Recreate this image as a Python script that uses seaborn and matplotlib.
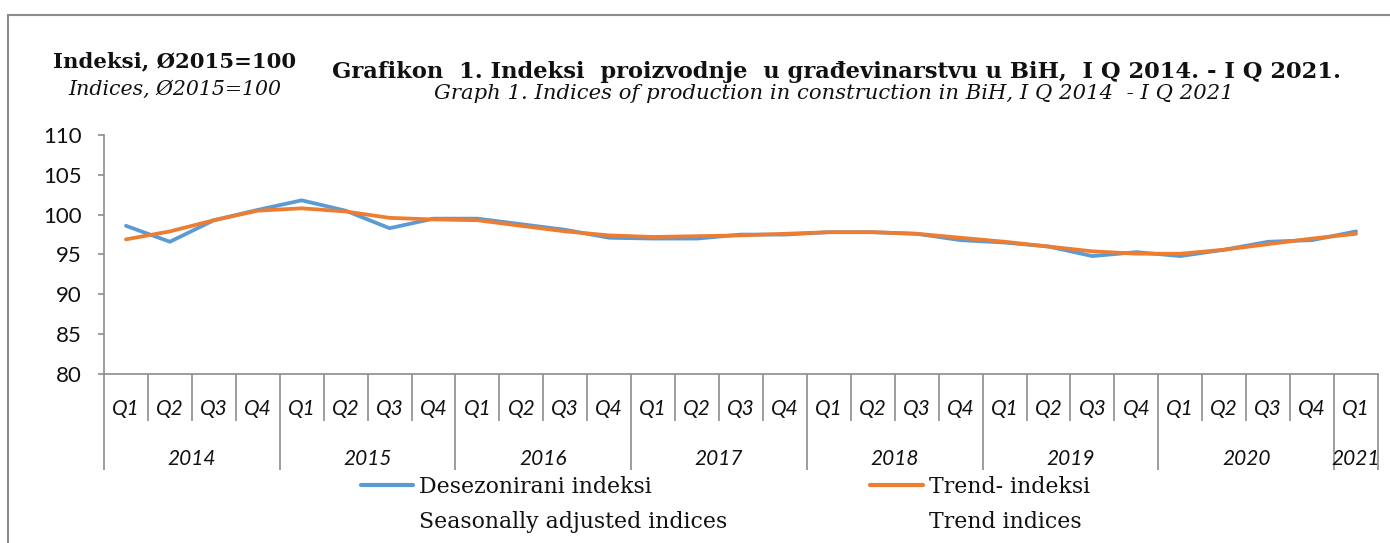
import matplotlib
matplotlib.use("Agg")
import matplotlib.pyplot as plt
import matplotlib.transforms as mtransforms
from matplotlib.lines import Line2D
from matplotlib.patches import Rectangle
import numpy as np
import pandas as pd
import seaborn as sns

# ---- data ----
years = ["2014", "2015", "2016", "2017", "2018", "2019", "2020", "2021"]
quarters = ["Q1", "Q2", "Q3", "Q4"]
seasonally_adjusted = [98.6, 96.6, 99.3, 100.6,
                       101.8, 100.5, 98.3, 99.5,
                       99.5, 98.8, 98.1, 97.1,
                       97.0, 97.0, 97.5, 97.5,
                       97.8, 97.8, 97.6, 96.8,
                       96.5, 96.0, 94.8, 95.3,
                       94.8, 95.6, 96.6, 96.8,
                       97.9]
trend = [96.9, 97.9, 99.3, 100.5,
         100.8, 100.4, 99.6, 99.4,
         99.3, 98.6, 97.9, 97.4,
         97.2, 97.3, 97.4, 97.6,
         97.8, 97.8, 97.6, 97.1,
         96.6, 96.0, 95.4, 95.1,
         95.1, 95.6, 96.3, 97.0,
         97.6]
series_names = ["Desezonirani indeksi", "Trend- indeksi"]
series_names_en = ["Seasonally adjusted indices", "Trend indices"]
colors = ["#5B9BD5", "#ED7D31"]
y_ticks = [80, 85, 90, 95, 100, 105, 110]

n = len(trend)
period_q = [quarters[i % 4] for i in range(n)]
period_y = [years[i // 4] for i in range(n)]

df = pd.DataFrame({
    "idx": list(range(n)) * 2,
    "value": seasonally_adjusted + trend,
    "series": [series_names[0]] * n + [series_names[1]] * n,
})

sns.set_style("white")
plt.rcParams["font.family"] = ["Lato", "DejaVu Sans"]

fig = plt.figure(figsize=(13.9, 5.43), dpi=100)
W, H = 1390, 543
ax = fig.add_axes([104 / W, 1 - 374 / H, (1378 - 104) / W, (374 - 135) / H])

sns.lineplot(data=df, x="idx", y="value", hue="series",
             palette=dict(zip(series_names, colors)), linewidth=2.7,
             legend=False, ax=ax, sort=False)

ax.set_xlim(-0.5, n - 0.5)
ax.set_ylim(80, 110)
ax.set_yticks(y_ticks)
ax.set_xlabel("")
ax.set_ylabel("")

spine_col = "#8c8c8c"
for s in ["top", "right"]:
    ax.spines[s].set_visible(False)
for s in ["left", "bottom"]:
    ax.spines[s].set_color(spine_col)
    ax.spines[s].set_linewidth(1.2)

ax.tick_params(axis="y", direction="out", length=4, width=1.2, color=spine_col,
               labelsize=16, labelcolor="#111111", pad=12, left=True)

# x category separators
bounds = [i - 0.5 for i in range(n + 1)]
year_bounds = [i - 0.5 for i in range(0, n, 4)] + [n - 0.5]
ax.set_xticks(year_bounds)
ax.set_xticks(bounds, minor=True)
ax.tick_params(axis="x", which="major", direction="out", length=69, width=1.2,
               color=spine_col, labelbottom=False, bottom=True)
ax.tick_params(axis="x", which="minor", direction="out", length=34, width=1.2,
               color=spine_col, labelbottom=False, bottom=True)

trans = mtransforms.blended_transform_factory(ax.transData, ax.transAxes)
for i in range(n):
    ax.text(i, (374 - 415) / 239, period_q[i], transform=trans, ha="center",
            va="baseline", fontsize=15, style="italic", color="#111111")
for k, yr in enumerate(years):
    idxs = [i for i in range(n) if period_y[i] == yr]
    ax.text(np.mean(idxs), (374 - 465) / 239, yr, transform=trans, ha="center",
            va="baseline", fontsize=15, style="italic", color="#111111")

# titles
serif = ["DejaVu Serif"]
fig.text(175 / W, 1 - 67 / H, "Indeksi, Ø2015=100", ha="center", va="baseline",
         fontsize=15.3, fontweight="bold", family=serif, color="#111111")
fig.text(175 / W, 1 - 95 / H, "Indices, Ø2015=100", ha="center", va="baseline",
         fontsize=14.8, style="italic", family=serif, color="#111111")
fig.text(836 / W, 1 - 78 / H,
         "Grafikon  1. Indeksi  proizvodnje  u građevinarstvu u BiH,  I Q 2014. - I Q 2021.",
         ha="center", va="baseline", fontsize=16.3, fontweight="bold", family=serif,
         color="#111111")
fig.text(834 / W, 1 - 99 / H,
         "Graph 1. Indices of production in construction in BiH, I Q 2014  - I Q 2021",
         ha="center", va="baseline", fontsize=15.2, style="italic", family=serif,
         color="#111111")

# legend
handles = [Line2D([], [], color=colors[0], lw=3),
           Line2D([], [], color="none"),
           Line2D([], [], color=colors[1], lw=3),
           Line2D([], [], color="none")]
labels = [series_names[0], series_names_en[0], series_names[1], series_names_en[1]]
leg = fig.legend(handles, labels, ncol=2, loc="upper left",
                 bbox_to_anchor=(352 / W, 1 - 467 / H), frameon=False,
                 prop={"family": "DejaVu Serif", "size": 15.8},
                 handlelength=2.4, handletextpad=0.27, columnspacing=6.5,
                 labelspacing=0.6, borderaxespad=0)
for t in leg.get_texts():
    t.set_color("#111111")

# outer border (left and top edges visible)
fig.patches.append(Rectangle((8 / W, -0.05), 1.2, 1 - 15 / H + 0.05,
                             transform=fig.transFigure, fill=False,
                             edgecolor="#8c8c8c", linewidth=1.5))

fig.savefig("out.png", dpi=100)
